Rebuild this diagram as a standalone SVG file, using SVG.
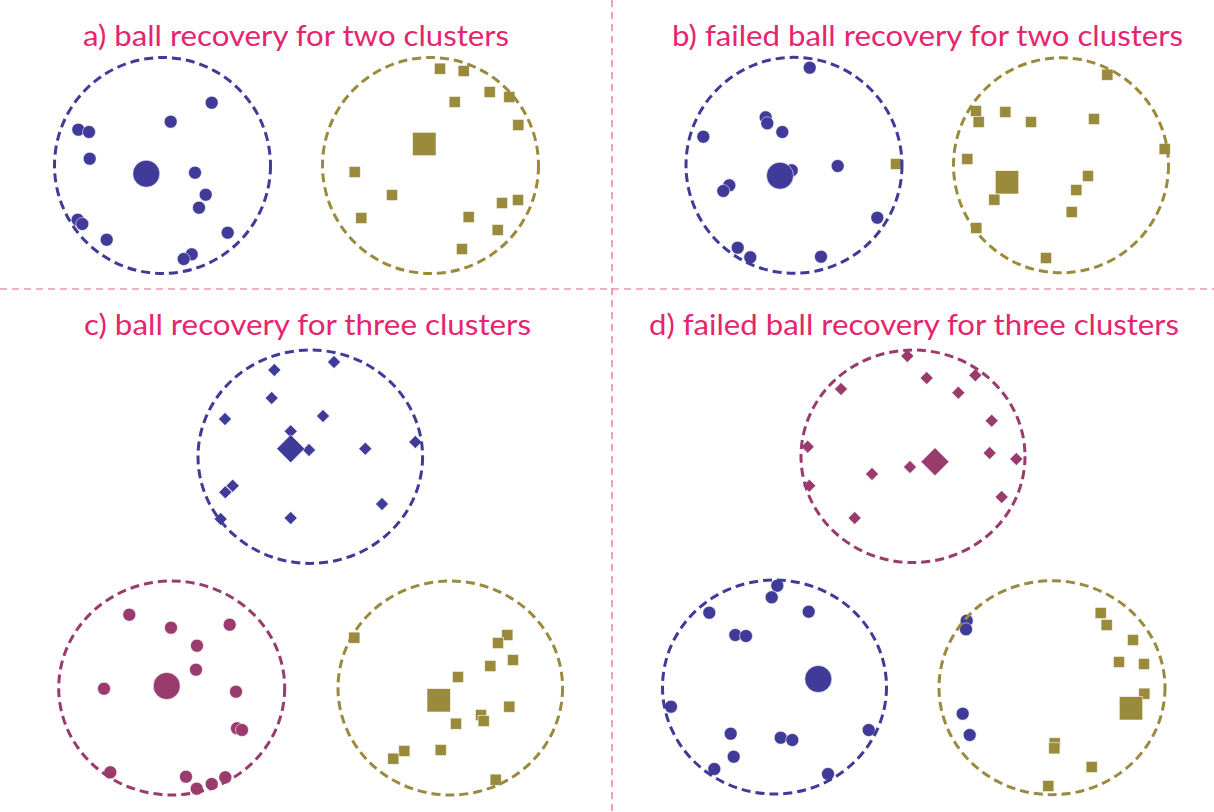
<svg xmlns="http://www.w3.org/2000/svg" width="1214" height="812" viewBox="0 0 1214 812">
<defs>
<style>
.t{font-family:Lato,"Liberation Sans",sans-serif;font-size:29px;fill:#e5256e;text-anchor:middle}
.div{stroke:#e85c92;stroke-width:1.2;stroke-dasharray:7 5;fill:none}
.ring{fill:none;stroke-width:3;stroke-dasharray:9 5}
.bl{fill:#403b98}.go{fill:#9a8a3c}.ma{fill:#993b6d}
.pt{stroke:#fff;stroke-width:0.8;stroke-opacity:0.7}
.rb{stroke:#403b98}.rg{stroke:#9a8a3c}.rm{stroke:#993b6d}
</style>
<circle id="d" r="6.5"/>
<circle id="D" r="13.5"/>
<rect id="s" x="-5.6" y="-5.6" width="11.2" height="11.2"/>
<rect id="S" x="-11.7" y="-11.7" width="23.4" height="23.4"/>
<path id="k" d="M0,-6.5L6.5,0L0,6.5L-6.5,0Z"/>
<path id="K" d="M0,-14L14,0L0,14L-14,0Z"/>
</defs>
<rect width="1214" height="812" fill="#fff"/>
<g id="dividers">
<line class="div" x1="612" y1="0" x2="612" y2="812"/>
<line class="div" x1="0" y1="289" x2="1214" y2="289"/>
</g>
<g id="titles">
<text class="t" x="296" y="46" textLength="426" lengthAdjust="spacingAndGlyphs">a) ball recovery for two clusters</text>
<text class="t" x="927.5" y="46" textLength="511" lengthAdjust="spacingAndGlyphs">b) failed ball recovery for two clusters</text>
<text class="t" x="307.5" y="335" textLength="447" lengthAdjust="spacingAndGlyphs">c) ball recovery for three clusters</text>
<text class="t" x="914" y="335" textLength="530" lengthAdjust="spacingAndGlyphs">d) failed ball recovery for three clusters</text>
</g>
<g id="panel-a">
<g class="bl pt">
<use href="#d" x="211.7" y="102.7"/><use href="#d" x="170.7" y="121.7"/><use href="#d" x="78.3" y="129.7"/><use href="#d" x="89" y="132"/><use href="#d" x="89.7" y="158.7"/><use href="#D" x="146.3" y="173.7"/><use href="#d" x="195" y="172.7"/><use href="#d" x="205.7" y="194.7"/><use href="#d" x="199" y="207.7"/><use href="#d" x="77.7" y="219.7"/><use href="#d" x="82.3" y="224"/><use href="#d" x="106.7" y="239.7"/><use href="#d" x="227.7" y="232.7"/><use href="#d" x="191.7" y="254.3"/><use href="#d" x="183.7" y="259"/>
</g>
<g class="go pt">
<use href="#s" x="440" y="68.7"/><use href="#s" x="463.7" y="71"/><use href="#s" x="489.7" y="92"/><use href="#s" x="509.3" y="97"/><use href="#s" x="454.7" y="102"/><use href="#s" x="518.3" y="125"/><use href="#S" x="424.3" y="144"/><use href="#s" x="354.7" y="172"/><use href="#s" x="392" y="195"/><use href="#s" x="361.3" y="218"/><use href="#s" x="502" y="203"/><use href="#s" x="518" y="200"/><use href="#s" x="468.7" y="217"/><use href="#s" x="497.7" y="230"/><use href="#s" x="462" y="249"/>
</g>
<circle class="ring rb" cx="162.5" cy="165.5" r="108"/>
<circle class="ring rg" cx="430.5" cy="165.5" r="108"/>
</g>
<g id="panel-b">
<g class="bl pt">
<use href="#d" x="809.7" y="67.7"/><use href="#d" x="765.7" y="117.3"/><use href="#d" x="767.3" y="123.3"/><use href="#d" x="782.3" y="132"/><use href="#d" x="703.3" y="136.7"/><use href="#d" x="791.7" y="170.3"/><use href="#D" x="780" y="175.7"/><use href="#d" x="837.7" y="166"/><use href="#d" x="729.3" y="185.3"/><use href="#d" x="723.3" y="191"/><use href="#d" x="877.3" y="217.7"/><use href="#d" x="737.7" y="247.7"/><use href="#d" x="750.3" y="257.3"/><use href="#d" x="821" y="256.7"/>
</g>
<g class="go pt">
<use href="#s" x="896" y="164"/>
<use href="#s" x="1107.3" y="74.7"/><use href="#s" x="976" y="111"/><use href="#s" x="978.7" y="122"/><use href="#s" x="1005.3" y="112"/><use href="#s" x="1031" y="122"/><use href="#s" x="1094" y="119"/><use href="#s" x="1164.7" y="149"/><use href="#s" x="967.3" y="159"/><use href="#S" x="1007" y="182.3"/><use href="#s" x="1088" y="176"/><use href="#s" x="1076.3" y="190"/><use href="#s" x="994.3" y="199.7"/><use href="#s" x="1071.7" y="212"/><use href="#s" x="976.3" y="228"/><use href="#s" x="1046" y="258"/>
</g>
<circle class="ring rb" cx="794" cy="165.3" r="108"/>
<circle class="ring rg" cx="1061" cy="165.3" r="107.5"/>
</g>
<g id="panel-c">
<g class="bl pt">
<use href="#k" x="334" y="362"/><use href="#k" x="274.3" y="370"/><use href="#k" x="271.7" y="398"/><use href="#k" x="225" y="419"/><use href="#k" x="323" y="416"/><use href="#k" x="290.7" y="431.3"/><use href="#k" x="309" y="450"/><use href="#K" x="290.7" y="448.7"/><use href="#k" x="365.3" y="448.7"/><use href="#k" x="415.3" y="442"/><use href="#k" x="232.7" y="485.7"/><use href="#k" x="225.3" y="492.3"/><use href="#k" x="382" y="504"/><use href="#k" x="220.7" y="519"/><use href="#k" x="290.7" y="518"/>
</g>
<g class="ma pt">
<use href="#d" x="129.3" y="614.7"/><use href="#d" x="171" y="627.7"/><use href="#d" x="229.7" y="624.7"/><use href="#d" x="197" y="645.7"/><use href="#d" x="196" y="669.7"/><use href="#D" x="166.7" y="686"/><use href="#d" x="104" y="688.7"/><use href="#d" x="236" y="691.7"/><use href="#d" x="237" y="728.3"/><use href="#d" x="242" y="730"/><use href="#d" x="110.3" y="772.3"/><use href="#d" x="186" y="776.7"/><use href="#d" x="225.3" y="777.3"/><use href="#d" x="211.7" y="784"/><use href="#d" x="196.7" y="788.7"/>
</g>
<g class="go pt">
<use href="#s" x="354.3" y="637.7"/><use href="#s" x="507.3" y="635"/><use href="#s" x="498" y="643"/><use href="#s" x="513" y="660"/><use href="#s" x="490.3" y="666"/><use href="#s" x="458" y="677"/><use href="#S" x="438.7" y="700.3"/><use href="#s" x="509.3" y="706.7"/><use href="#s" x="481" y="715"/><use href="#s" x="483.7" y="721"/><use href="#s" x="456" y="723.7"/><use href="#s" x="404.3" y="751"/><use href="#s" x="393.3" y="758.7"/><use href="#s" x="440.7" y="750"/><use href="#s" x="495.7" y="779.7"/>
</g>
<ellipse class="ring rb" cx="310.3" cy="456.7" rx="112.3" ry="106.7"/>
<ellipse class="ring rm" cx="171.7" cy="688" rx="113" ry="107"/>
<ellipse class="ring rg" cx="450.3" cy="688" rx="112.3" ry="107"/>
</g>
<g id="panel-d">
<g class="ma pt">
<use href="#k" x="907.3" y="356"/><use href="#k" x="926.7" y="378"/><use href="#k" x="975.3" y="375.3"/><use href="#k" x="841" y="389"/><use href="#k" x="958.3" y="392.7"/><use href="#k" x="991.7" y="420.7"/><use href="#k" x="807.7" y="446.7"/><use href="#k" x="989.7" y="453"/><use href="#k" x="1016.3" y="459"/><use href="#K" x="935" y="461.7"/><use href="#k" x="910" y="467"/><use href="#k" x="872" y="474"/><use href="#k" x="809.3" y="485.7"/><use href="#k" x="1001.7" y="497"/><use href="#k" x="854.7" y="518"/>
</g>
<g class="bl pt">
<use href="#d" x="777.3" y="585.7"/><use href="#d" x="771.7" y="597.3"/><use href="#d" x="709.3" y="612.7"/><use href="#d" x="808.7" y="611.7"/><use href="#d" x="735.3" y="635"/><use href="#d" x="746" y="636"/><use href="#D" x="818.3" y="679"/><use href="#d" x="671" y="706.7"/><use href="#d" x="868.7" y="730"/><use href="#d" x="730.7" y="733.7"/><use href="#d" x="780.7" y="737.7"/><use href="#d" x="792.3" y="740"/><use href="#d" x="733.7" y="756.7"/><use href="#d" x="714.3" y="769"/><use href="#d" x="828" y="774"/>
<use href="#d" x="966.7" y="620.7"/><use href="#d" x="966" y="629.3"/><use href="#d" x="962.7" y="713.7"/><use href="#d" x="969.7" y="735"/>
</g>
<g class="go pt">
<use href="#s" x="1100.7" y="613"/><use href="#s" x="1106.7" y="625"/><use href="#s" x="1133" y="640"/><use href="#s" x="1119" y="662"/><use href="#s" x="1144" y="664"/><use href="#s" x="1144.3" y="693.7"/><use href="#S" x="1131" y="708.3"/><use href="#s" x="1054.7" y="743.3"/><use href="#s" x="1054.3" y="748.3"/><use href="#s" x="1091.7" y="767"/><use href="#s" x="1048.3" y="786"/>
</g>
<ellipse class="ring rm" cx="913" cy="456.3" rx="112" ry="106.3"/>
<ellipse class="ring rb" cx="774.5" cy="687" rx="112" ry="107"/>
<ellipse class="ring rg" cx="1052" cy="687.7" rx="113" ry="107"/>
</g>
</svg>
